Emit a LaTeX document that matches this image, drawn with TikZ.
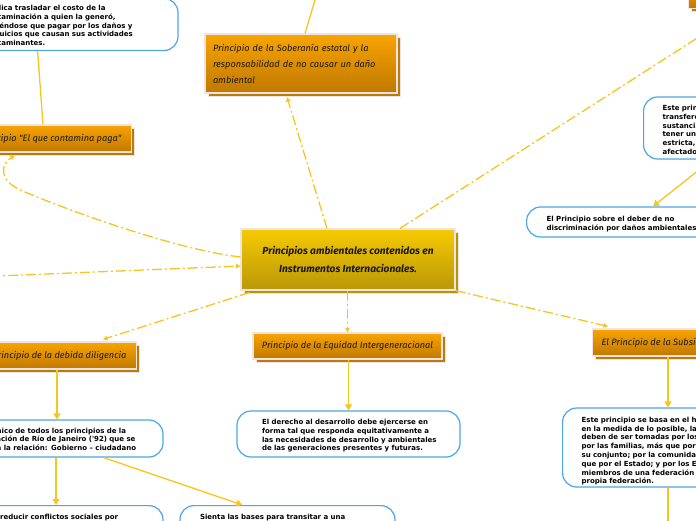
\documentclass[tikz,border=0pt]{standalone}
\usepackage{fontspec}
\newfontfamily\hand{Fira Sans}
\newfontfamily\leaffont{DejaVu Sans}
\usetikzlibrary{arrows.meta,shadows,calc}
\definecolor{otop}{HTML}{F9A400}
\definecolor{obot}{HTML}{C07800}
\definecolor{oshadow}{HTML}{BE7A08}
\definecolor{ctop}{HTML}{F6CA00}
\definecolor{cbot}{HTML}{B99708}
\definecolor{cshadow}{HTML}{B89400}
\definecolor{bordl}{HTML}{EEE4E4}
\definecolor{leafblue}{HTML}{4AA6E6}
\definecolor{lineyel}{HTML}{F7C520}
\definecolor{txt}{HTML}{1A1A1A}
\newcommand{\Lx}[1]{\mbox{#1}}
\newcommand{\Up}[1]{\rule{0pt}{#1}}
\begin{document}
\begin{tikzpicture}[x=1pt,y=-1pt,
  conn/.style={draw=lineyel, line width=1.3pt},
  dd/.style={conn, dash pattern=on 10pt off 3pt on 2pt off 3pt, -{Triangle[length=4.5pt,width=4.5pt]}},
  sol/.style={conn, -{Triangle[length=6pt,width=7pt]}},
  plain/.style={conn},
  obox/.style={rectangle, top color=otop, bottom color=obot, draw=bordl, line width=1.2pt,
    copy shadow={shadow xshift=3pt, shadow yshift=-3pt, fill=oshadow, draw=bordl, line width=1pt},
    font=\hand\itshape\fontsize{9.2}{10}\selectfont, text=txt, inner ysep=0pt},
  cbox/.style={rectangle, top color=ctop, bottom color=cbot, draw=bordl, line width=1.2pt,
    copy shadow={shadow xshift=3pt, shadow yshift=-3pt, fill=cshadow, draw=bordl, line width=1pt},
    font=\hand\bfseries\itshape\fontsize{10.2}{18}\selectfont, text=txt, align=center},
  leaf/.style={rectangle, rounded corners=14pt, draw=leafblue, line width=1.2pt, fill=white,
    align=left, inner xsep=20pt, inner ysep=0pt,
    font=\leaffont\bfseries\fontsize{7}{8.8}\selectfont, text=black}
]
\useasboundingbox (0,0) rectangle (696,520);
\clip (0,0) rectangle (696,520);
\fill[white] (0,0) rectangle (696,520);

% off-screen ends
\coordinate (U) at (321,-20);
\coordinate (L) at (-100,280);
\coordinate (D) at (668,560);

% main nodes
\node[cbox, minimum width=214pt, minimum height=61pt] (cen) at (348,259.5)
  {Principios ambientales contenidos en\\Instrumentos Internacionales.};

\node[obox, minimum width=192pt, minimum height=59pt, text width=176pt, inner xsep=8pt, align=left,
  font=\hand\itshape\fontsize{9.2}{16}\selectfont] (sob) at (301,63.5)
  {Principio de la Soberanía estatal y la\\responsabilidad de no causar un daño\\ambiental};
\node[obox, anchor=east, inner xsep=10pt, minimum height=27pt] (pag) at (132,138.5)
  {Principio "El que contamina paga"};
\node[obox, anchor=east, inner xsep=10pt, minimum height=27pt] (dil) at (137,355.5)
  {Principio de la debida diligencia};
\node[obox, minimum width=189pt, minimum height=26pt] (equ) at (347.5,346)
  {Principio de la Equidad Intergeneracional};
\node[obox, anchor=west, inner xsep=9pt, minimum height=27pt] (sub) at (592,342.5)
  {El Principio de la Subsidiariedad};
\node[obox, anchor=south west, minimum width=108pt, minimum height=27pt] (tr) at (688,9) {};

% leaves
\node[leaf, text width=174pt, minimum height=52pt] (imp) at (71,24.5)
  {\Lx{\Up{7.3pt}Implica trasladar el costo de la}\\\Lx{contaminación a quien la generó,}\\\Lx{teniéndose que pagar por los daños y}\\\Lx{perjuicios que causan sus actividades}\\\Lx{contaminantes.}};
\node[leaf, anchor=west, text width=180pt, inner xsep=19pt, minimum height=62pt] (tra) at (643,128)
  {\Lx{\Up{9pt}Este principio prohíbe la}\\\Lx{transferencia de}\\\Lx{sustancias peligrosas,}\\\Lx{tener una obligación}\\\Lx{estricta, con los}\\\Lx{afectados.}};
\node[leaf, anchor=west, text width=214pt, minimum height=30pt] (dis) at (526,222)
  {\Lx{\Up{9pt}El Principio sobre el deber de no}\\\Lx{discriminación por daños ambientales}};
\node[leaf, text width=172pt, minimum height=37pt] (rio) at (57,438.5)
  {\Lx{\Up{8.3pt}Es el único de todos los principios de la}\\\Lx{Declaración de Río de Janeiro ('92) que se}\\\Lx{aplica a la relación: Gobierno – ciudadano}};
\node[leaf, anchor=north, text width=174pt, inner ysep=8.5pt] (red) at (56,505)
  {\Lx{Intenta reducir conflictos sociales por}\\\Lx{medio de la participación ciudadana.}};
\node[leaf, anchor=north, text width=175pt, inner ysep=8.5pt] (sie) at (287.5,505)
  {\Lx{Sienta las bases para transitar a una}\\\Lx{sociedad sustentable.}};
\node[leaf, text width=173pt, inner xsep=25pt, minimum height=46pt] (equc) at (348.5,434)
  {\Lx{\Up{9pt}El derecho al desarrollo debe ejercerse en}\\\Lx{forma tal que responda equitativamente a}\\\Lx{las necesidades de desarrollo y ambientales}\\\Lx{de las generaciones presentes y futuras.}};
\node[leaf, anchor=west, text width=220pt, inner xsep=19pt, minimum height=79pt] (subc) at (562,447.5)
  {\Lx{\Up{12.5pt}Este principio se basa en el hecho de que,}\\\Lx{en la medida de lo posible, las decisiones}\\\Lx{deben de ser tomadas por los individuos;}\\\Lx{por las familias, más que por la sociedad}\\\Lx{su conjunto; por la comunidad local,}\\\Lx{que por el Estado; y por los Estados}\\\Lx{miembros de una federación más que}\\\Lx{propia federación.}};

% dash-dot connectors from the centre
\draw[dd] ([xshift=-21pt]cen.north) -- ([xshift=-14pt,yshift=-3.5pt]sob.south);
\draw[dd] ([xshift=52pt]cen.north) -- (tr.south);
\draw[dd] ([yshift=2.5pt]cen.west) .. controls (180,250) and (80,215) .. (25,192)
  .. controls (-2,182) and (0,164) .. ($(pag.south east)+(-117,3)$);
\draw[dd] (L) -- ([yshift=-6.5pt]cen.west);
\draw[dd] ($(cen.south west)+(9,2)$) -- ($(dil.north east)+(-34,-2)$);
\draw[dd] (equ.north |- cen.south) -- (equ.north);
\draw[dd] (cen.south east) -- ($(sub.north west)+(16,-2)$);

% solid connectors
\draw[plain] ($(pag.north east)+(-89,0)$) -- ($(imp.south east)+(-141,0)$);
\draw[plain] ([xshift=4pt]sob.north) -- (U);
\draw[sol] ($(tra.south west)+(69,0)$) -- ($(dis.north west)+(127,0)$);
\draw[sol] (rio.north |- dil.south) -- (rio.north);
\draw[sol] (red.north |- rio.south) -- (red.north);
\draw[sol] ($(rio.south east)+(-60,0)$) -- ($(sie.north west)+(63,0)$);
\draw[sol] (equc.north |- equ.south) -- (equc.north);
\draw[sol] ($(sub.south west)+(76,0)$) -- ($(subc.north west)+(106,0)$);
\draw[plain] ($(subc.south west)+(106,0)$) -- (D);
\end{tikzpicture}
\end{document}
